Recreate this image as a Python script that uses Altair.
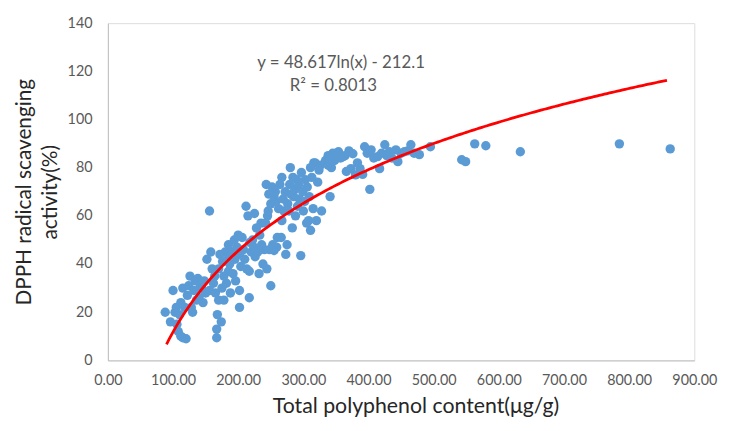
import altair as alt
import pandas as pd

# Scatter data: total polyphenol content (x) and DPPH scavenging activity (y)
x_vals = [
    88, 96, 100, 103, 105, 108, 110, 112, 115, 115, 118, 120, 122, 124, 126, 128, 130, 132, 134, 136,
    138, 140, 142, 144, 146, 148, 150, 112, 106,
    152, 156, 156, 158, 160, 162, 164, 165, 167, 167, 168, 170, 172, 174, 175, 176, 178, 180, 182, 184,
    185, 187, 188, 190, 192, 194, 195, 196, 198, 200, 202, 202, 202, 204, 206, 208, 210, 185, 170, 178,
    212, 213, 215, 217, 217, 218, 220, 222, 224, 225, 226, 228, 230, 232, 233, 235, 236, 238, 240, 242,
    243, 244, 245, 246, 247, 248, 250, 250, 252, 253, 255, 255, 257, 258, 259, 260,
    262, 264, 266, 267, 267, 269, 270, 272, 273, 275, 276, 278, 279, 280, 281, 283, 284, 285, 287, 288,
    290, 291, 293, 294, 296, 297, 299, 300, 302, 303, 305, 306, 308, 309, 311, 311, 313, 315, 316, 318,
    320, 322, 324, 326, 328,
    334, 338, 338, 341, 343, 343, 345, 348, 350, 352, 354, 357, 361, 364, 366, 370, 373, 376, 380, 383,
    387, 391, 394, 398, 402, 404, 408, 414, 417, 420, 425, 428, 432, 436, 442, 445, 450, 455, 460, 465,
    470, 478, 495,
    543, 549, 563, 580, 633, 785, 863,
]
y_vals = [
    20, 16, 29, 20, 22, 12, 19, 10, 9.4, 30, 22, 9, 27, 31, 35, 22, 20, 29, 33, 25,
    34, 26, 31, 30, 24, 33, 28, 24, 15,
    42, 62, 29, 45, 38, 32, 35, 28, 13, 9.4, 19, 38, 44, 16, 30, 41, 35, 45, 32, 42,
    37, 40, 28, 45, 36, 50, 42, 33, 47, 52, 22, 29, 44, 39, 51, 46, 42, 48, 25, 25,
    64, 38, 60, 26, 37, 49, 45, 50, 47, 61, 43, 55, 45, 36, 52, 57, 48, 40, 46, 57,
    73, 38, 60, 62, 69, 46, 31, 65, 72, 48, 45.6, 68, 70, 66, 47, 51,
    63, 73, 51, 58, 76, 67, 62, 70, 44, 48, 65, 62, 73, 80, 69, 55, 76, 68, 71, 60,
    75, 64, 73, 67, 43.5, 78, 70, 62, 66, 75, 57, 72, 58, 68, 54, 80, 76, 63, 82, 82,
    58, 74, 79, 81, 62,
    83, 85, 81, 68, 80, 84.6, 86, 83, 86, 85, 86.6, 84, 84.6, 85, 78.4, 87, 79.6, 85.8, 77, 82,
    79.6, 77.2, 88.7, 86, 71, 87.4, 84, 84.6, 79.6, 86, 89.5, 85, 86.6, 84, 87.4, 82.5, 86, 86.6, 87, 89.5,
    86, 85.4, 88.7,
    83.3, 82.5, 89.9, 89.1, 86.6, 89.9, 87.8,
]

# Logarithmic trendline as printed on the chart: y = a*ln(x) + b
trend_coef = [48.617, -212.1]
trend_range = [90, 862]

# Equation label
eq_lines = ["y = 48.617ln(x) - 212.1", "R² = 0.8013"]
eq_x = [358, 346]
eq_y = [123.6, 113.8]

FONT = "Lato"
LABEL_COLOR = "#595959"

pts = pd.DataFrame({"x": x_vals, "y": y_vals})
eq = pd.DataFrame({"t": eq_lines, "x": eq_x, "y": eq_y})

x_scale = alt.Scale(domain=[0, 900], nice=False, zero=True)
y_scale = alt.Scale(domain=[0, 140], nice=False)

x_axis = alt.Axis(
    title="Total polyphenol content(μg/g)",
    values=list(range(0, 901, 100)), format=".2f",
    grid=False, ticks=False, domainColor="#bfbfbf", labelColor=LABEL_COLOR,
    labelFont=FONT, labelFontSize=14.5, labelPadding=13, labelFlush=False,
    titleFont=FONT, titleFontSize=21.5, titleFontWeight="normal", titleColor="#262626",
    titlePadding=9, titleX=311,
)
y_axis = alt.Axis(
    title=["DPPH radical scavenging", "activity(%)"],
    values=list(range(0, 141, 20)),
    grid=False, ticks=False, domainColor="#bfbfbf", labelColor=LABEL_COLOR,
    labelFont=FONT, labelFontSize=14.5, labelPadding=16,
    titleFont=FONT, titleFontSize=21, titleFontWeight="normal", titleColor="#262626",
    titlePadding=7, titleLineHeight=26,
)

scatter = alt.Chart(pts).mark_circle(size=90, color="#5B9BD5", opacity=1).encode(
    x=alt.X("x:Q", scale=x_scale, axis=x_axis),
    y=alt.Y("y:Q", scale=y_scale, axis=y_axis),
)

trend = (
    alt.Chart(alt.sequence(trend_range[0], trend_range[1], 4, as_="x"))
    .transform_calculate(y=f"{trend_coef[0]}*log(datum.x) + ({trend_coef[1]})")
    .mark_line(color="#FF0000", strokeWidth=2.8)
    .encode(x=alt.X("x:Q", scale=x_scale), y=alt.Y("y:Q", scale=y_scale))
)

label = alt.Chart(eq).mark_text(font=FONT, fontSize=17, color=LABEL_COLOR).encode(
    x=alt.X("x:Q", scale=x_scale), y=alt.Y("y:Q", scale=y_scale), text="t:N"
)

chart = (
    alt.layer(scatter, trend, label)
    .properties(width=593, height=341, padding={"left": 5, "top": 5, "right": 5, "bottom": 5})
    .configure_view(stroke=None)
    .configure(background="white")
)

chart.save("out.html", embed_options={"renderer": "svg", "actions": False})
